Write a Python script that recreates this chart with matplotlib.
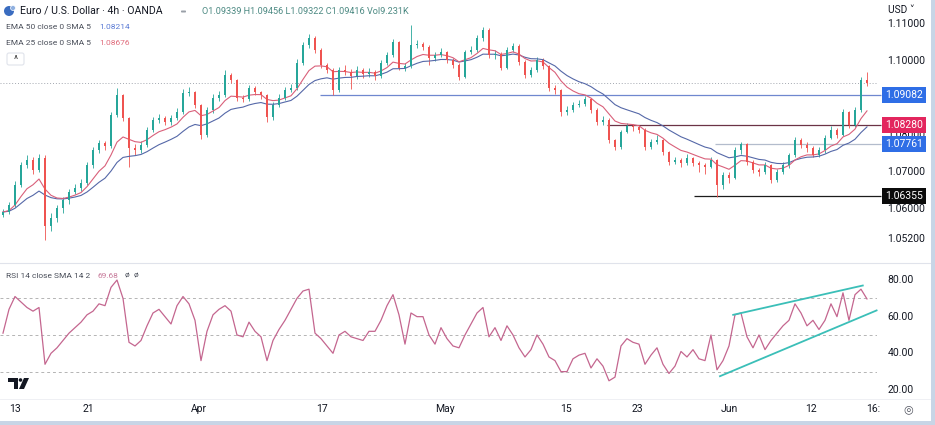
import matplotlib.pyplot as plt
from matplotlib.patches import FancyBboxPatch, Rectangle, Polygon, Circle
from matplotlib.lines import Line2D
import pandas as pd

plt.rcParams['font.family'] = ['Roboto', 'DejaVu Sans']

# EUR/USD, one candle ~ half a trading day
first_open = 1.0585
closes = [
    1.0592, 1.0611, 1.0665, 1.0719, 1.0732, 1.0705, 1.0738, 1.0554, 1.0576, 1.0603,
    1.0624, 1.0646, 1.0657, 1.0670, 1.0719, 1.0759, 1.0778, 1.0770, 1.0854, 1.0908,
    1.0846, 1.0765, 1.0759, 1.0773, 1.0814, 1.0841, 1.0846, 1.0835, 1.0846, 1.0862,
    1.0914, 1.0916, 1.0881, 1.0800, 1.0868, 1.0900, 1.0908, 1.0962, 1.0949, 1.0900,
    1.0897, 1.0927, 1.0916, 1.0908, 1.0849, 1.0881, 1.0900, 1.0922, 1.0927, 1.0995,
    1.1043, 1.1062, 1.1030, 1.0989, 1.0976, 1.0922, 1.0976, 1.0970, 1.0959, 1.0976,
    1.0965, 1.0970, 1.0959, 1.0995, 1.1016, 1.1051, 1.0981, 1.0986, 1.1043, 1.1046,
    1.1038, 1.1008, 1.1016, 1.1024, 1.1003, 1.0989, 1.0957, 1.1024, 1.1030, 1.1062,
    1.1084, 1.1016, 1.1019, 1.0981, 1.1030, 1.1041, 1.0997, 1.0962, 1.0976, 1.1003,
    1.0986, 1.0927, 1.0922, 1.0862, 1.0868, 1.0881, 1.0884, 1.0897, 1.0868, 1.0835,
    1.0841, 1.0786, 1.0768, 1.0808, 1.0824, 1.0822, 1.0814, 1.0768, 1.0781, 1.0786,
    1.0754, 1.0727, 1.0732, 1.0724, 1.0738, 1.0724, 1.0719, 1.0714, 1.0732, 1.0665,
    1.0692, 1.0684, 1.0759, 1.0776, 1.0727, 1.0705, 1.0700, 1.0719, 1.0678, 1.0700,
    1.0719, 1.0746, 1.0786, 1.0773, 1.0765, 1.0746, 1.0759, 1.0792, 1.0814, 1.0800,
    1.0862, 1.0827, 1.0868, 1.0949, 1.09416,
]
highs = [
    1.0600, 1.0618, 1.0675, 1.0728, 1.0745, 1.0740, 1.0750, 1.0745, 1.0590, 1.0612,
    1.0632, 1.0655, 1.0668, 1.0682, 1.0728, 1.0768, 1.0786, 1.0785, 1.0862, 1.0927,
    1.0912, 1.0850, 1.0775, 1.0784, 1.0822, 1.0850, 1.0858, 1.0852, 1.0855, 1.0872,
    1.0925, 1.0930, 1.0920, 1.0885, 1.0876, 1.0910, 1.0918, 1.0975, 1.0968, 1.0952,
    1.0908, 1.0936, 1.0932, 1.0920, 1.0912, 1.0890, 1.0910, 1.0930, 1.0938, 1.1005,
    1.1052, 1.1073, 1.1068, 1.1035, 1.0995, 1.0980, 1.0985, 1.0990, 1.0978, 1.0986,
    1.0982, 1.0980, 1.0976, 1.1002, 1.1024, 1.1060, 1.1055, 1.0995, 1.1097, 1.1058,
    1.1052, 1.1042, 1.1025, 1.1035, 1.1028, 1.1008, 1.0995, 1.1030, 1.1040, 1.1070,
    1.1092, 1.1088, 1.1030, 1.1025, 1.1038, 1.1050, 1.1045, 1.1002, 1.0985, 1.1010,
    1.1008, 1.0990, 1.0935, 1.0925, 1.0878, 1.0890, 1.0895, 1.0905, 1.0900, 1.0872,
    1.0852, 1.0845, 1.0790, 1.0815, 1.0832, 1.0830, 1.0828, 1.0818, 1.0790, 1.0800,
    1.0790, 1.0758, 1.0742, 1.0738, 1.0748, 1.0742, 1.0730, 1.0725, 1.0742, 1.0736,
    1.0700, 1.0700, 1.0768, 1.0780, 1.0778, 1.0732, 1.0712, 1.0726, 1.0722, 1.0708,
    1.0728, 1.0752, 1.0795, 1.0792, 1.0780, 1.0770, 1.0768, 1.0800, 1.0825, 1.0820,
    1.0870, 1.0866, 1.0876, 1.0958, 1.0970,
]
lows = [
    1.0578, 1.0586, 1.0605, 1.0660, 1.0712, 1.0695, 1.0700, 1.0516, 1.0540, 1.0565,
    1.0590, 1.0615, 1.0640, 1.0650, 1.0665, 1.0712, 1.0752, 1.0760, 1.0765, 1.0850,
    1.0838, 1.0714, 1.0745, 1.0752, 1.0768, 1.0808, 1.0832, 1.0826, 1.0828, 1.0840,
    1.0858, 1.0905, 1.0872, 1.0790, 1.0795, 1.0860, 1.0892, 1.0902, 1.0940, 1.0892,
    1.0888, 1.0892, 1.0908, 1.0898, 1.0835, 1.0842, 1.0875, 1.0895, 1.0915, 1.0922,
    1.0990, 1.1035, 1.1022, 1.0980, 1.0968, 1.0908, 1.0915, 1.0962, 1.0925, 1.0952,
    1.0955, 1.0958, 1.0948, 1.0955, 1.0990, 1.1012, 1.0975, 1.0972, 1.0982, 1.1035,
    1.1030, 1.0990, 1.1000, 1.1010, 1.0995, 1.0980, 1.0950, 1.0955, 1.1018, 1.1025,
    1.1055, 1.1008, 1.1005, 1.0975, 1.0978, 1.1025, 1.0990, 1.0955, 1.0958, 1.0970,
    1.0978, 1.0918, 1.0912, 1.0852, 1.0855, 1.0862, 1.0875, 1.0878, 1.0860, 1.0828,
    1.0828, 1.0778, 1.0760, 1.0762, 1.0805, 1.0812, 1.0805, 1.0760, 1.0762, 1.0775,
    1.0745, 1.0718, 1.0722, 1.0715, 1.0720, 1.0716, 1.0700, 1.0695, 1.0710, 1.0632,
    1.0655, 1.0670, 1.0680, 1.0750, 1.0720, 1.0698, 1.0690, 1.0695, 1.0670, 1.0672,
    1.0695, 1.0712, 1.0740, 1.0765, 1.0755, 1.0740, 1.0742, 1.0752, 1.0788, 1.0792,
    1.0798, 1.0820, 1.0822, 1.0862, 1.0932,
]
rsi = [
    51, 64, 71, 68, 65, 63, 65, 34, 40, 43,
    47, 51, 54, 57, 61, 63, 67, 66, 76, 80,
    70, 46, 44, 47, 55, 62, 64, 60, 56, 66,
    71, 67, 58, 36, 52, 61, 64, 66, 63, 50,
    49, 57, 52, 49, 36, 47, 53, 58, 64, 70,
    74, 75, 51, 48, 44, 40, 50, 52, 49, 48,
    47, 52, 52, 58, 66, 72, 61, 45, 62, 60,
    60, 50, 45, 54, 48, 44, 43, 50, 56, 62,
    65, 49, 54, 47, 55, 50, 43, 38, 42, 50,
    45, 38, 36, 30, 30, 37, 39, 40, 32, 37,
    33, 25, 27, 44, 48, 46, 45, 34, 39, 43,
    34, 29, 33, 41, 38, 42, 37, 36, 50, 31,
    36, 44, 61, 62, 49, 43, 50, 42, 47, 51,
    55, 58, 67, 62, 55, 58, 53, 58, 67, 60,
    73, 58, 72, 75, 69.68,
]

# drawn levels (price, first candle) and RSI wedge lines
levels = [1.09082, 1.08280, 1.07761, 1.06355]
level_start = [52.8, 100.7, 118.7, 115.2]
level_line_col = ['#6f87cf', '#6b3346', '#b3bccc', '#1c1c1c']
level_box_col = ['#2f6ee6', '#e3265e', '#2f6ee6', '#0b0b0b']
wedge_upper = ([121.7, 143.3], [61, 77])
wedge_lower = ([119.5, 145.6], [27.5, 63.4])

price_ticks = [1.11, 1.10, 1.08, 1.07, 1.06, 1.052]
rsi_ticks = [80, 60, 40, 20]
rsi_bands = [70, 50, 30]
date_pos = [2, 14.2, 32.7, 53.2, 73.7, 93.8, 105.8, 121, 134.7, 145]
date_labels = ['13', '21', 'Apr', '17', 'May', '15', '23', 'Jun', '12', '16:']

ema_fast_span = 25 / 3   # EMA 25 on 4h candles
ema_slow_span = 50 / 3   # EMA 50 on 4h candles

UP, DOWN = '#26a69a', '#ef5350'
TXT = '#131722'
W, H = 935, 425


def box(x0, y0, x1, y1):
    return [x0 / W, 1 - y1 / H, (x1 - x0) / W, (y1 - y0) / H]


def ftext(x, y, s, **kw):
    kw.setdefault('va', 'center')
    kw.setdefault('fontsize', 6)
    kw.setdefault('color', TXT)
    fig.text(x / W, 1 - y / H, s, **kw)


def px(x, y):
    # pixel (from top-left) -> inches for dpi_scale_trans
    return (x / 100, (H - y) / 100)


fig = plt.figure(figsize=(9.35, 4.25), dpi=100)
fig.patch.set_facecolor('white')

ax = fig.add_axes(box(0, 0, 877, 262))
rax = fig.add_axes(box(0, 265, 877, 398))
xmax = 145.67

n = len(closes)
idx = list(range(n))
opens = [first_open] + closes[:-1]
cols = [UP if c >= o else DOWN for o, c in zip(opens, closes)]

ax.vlines(idx, lows, highs, colors=cols, lw=0.6, zorder=2)
ax.bar(idx, [c - o for o, c in zip(opens, closes)], bottom=opens, width=0.42,
       color=cols, linewidth=0, zorder=3)

s = pd.Series(closes)
ema_fast = s.ewm(span=ema_fast_span, adjust=False).mean()
ema_slow = s.ewm(span=ema_slow_span, adjust=False).mean()
ax.plot(idx, ema_slow, color='#5568a8', lw=0.8, zorder=2)
ax.plot(idx, ema_fast, color='#d9607a', lw=0.8, zorder=2)

ax.axhline(closes[-1], color='#a3a8b0', lw=0.7, ls=(0, (1, 2)), zorder=1)

for lv, st, lc in zip(levels, level_start, level_line_col):
    ax.hlines(lv, st, xmax + 0.7, colors=lc, lw=0.9, zorder=1, clip_on=False)

ax.set_xlim(-0.5, xmax)
ax.set_ylim(1.0457, 1.11649)
ax.axis('off')

ytr = ax.get_yaxis_transform()
for p in price_ticks:
    ax.text(1.012, p, f'{p:.5f}', transform=ytr, ha='left', va='center',
            fontsize=7.5, color=TXT, zorder=3, clip_on=False)
for lv, bc in zip(levels, level_box_col):
    ax.text(1.009, lv, f'{lv:.5f}', transform=ytr, ha='left', va='center',
            fontsize=7.5, color='white', zorder=6, clip_on=False,
            bbox=dict(boxstyle='square,pad=0.3', fc=bc, ec='none'))

# RSI pane
rax.plot(idx, rsi, color='#c4668f', lw=0.9, zorder=3)
for b in rsi_bands:
    rax.axhline(b, color='#b4b4b4', lw=0.7, ls=(0, (3, 3)), zorder=1)
for xs, ys in (wedge_upper, wedge_lower):
    rax.add_line(Line2D(xs, ys, color='#3bbfb8', lw=1.3, zorder=4, clip_on=False))
rax.set_xlim(-0.5, xmax)
rax.set_ylim(15.6, 88.2)
rax.axis('off')
rtr = rax.get_yaxis_transform()
for v in rsi_ticks:
    rax.text(1.012, v, f'{v:.2f}', transform=rtr, ha='left', va='center',
             fontsize=7.5, color=TXT, clip_on=False)

# dates
date_y = 1 - (409 - 265) / (398 - 265)
for xp, lab in zip(date_pos, date_labels):
    rax.text(xp, date_y, lab, transform=rax.get_xaxis_transform(), ha='center',
             va='center', fontsize=7.5, color=TXT, clip_on=False)

# pane separators and screenshot frame
fig.add_artist(Line2D([0, 930 / W], [1 - 263 / H] * 2, color='#e0e3eb', lw=0.8))
fig.add_artist(Line2D([0, 930 / W], [1 - 398.5 / H] * 2, color='#eceef2', lw=0.6))
fig.add_artist(Rectangle((931 / W, 0), 4 / W, 1, transform=fig.transFigure,
                         fc='#c8d5e6', ec='none'))
fig.add_artist(Rectangle((0, 0), 1, 4 / H, transform=fig.transFigure,
                         fc='#c8d5e6', ec='none'))

# header
fig.add_artist(Circle(px(9, 11), 0.05, transform=fig.dpi_scale_trans,
                      fc='#3a6cc0', ec='none'))
fig.add_artist(Circle(px(13, 8), 0.025, transform=fig.dpi_scale_trans,
                      fc='#8fb0e0', ec='white', lw=0.5))
ftext(20, 11, 'Euro / U.S. Dollar \u00b7 4h \u00b7 OANDA', fontsize=7.6)
fig.add_artist(FancyBboxPatch(px(181, 12.5), 0.05, 0.02,
                              boxstyle='round,pad=0,rounding_size=0.008',
                              transform=fig.dpi_scale_trans, fc='#9aa0a8', ec='none'))
ftext(202, 11, 'O1.09339 H1.09456 L1.09322 C1.09416 Vol9.231K',
      fontsize=6.6, color='#4d8a83')
ftext(6, 27, 'EMA 50 close 0 SMA 5', color='#4a4f5a')
ftext(99, 27, '1.08214', color='#5b7bd5')
ftext(6, 43, 'EMA 25 close 0 SMA 5', color='#4a4f5a')
ftext(99, 43, '1.08676', color='#e06c7c')
fig.add_artist(FancyBboxPatch(px(7, 65), 0.17, 0.12,
                              boxstyle='round,pad=0,rounding_size=0.02',
                              transform=fig.dpi_scale_trans, fc='white',
                              ec='#e0e3eb', lw=0.8))
ftext(15.5, 60, '^', fontsize=7, ha='center', color='#333333')
ftext(888, 10, 'USD \u02c5', fontsize=7.3)

ftext(6, 276, 'RSI 14 close SMA 14 2', color='#4a4f5a')
ftext(98, 276, '69.68', color='#c77a9a')
ftext(125, 276, '\u00f8  \u00f8', color='#4a4f5a')

# TradingView logo
logo = '#131722'
fig.add_artist(Polygon([px(8, 378), px(18, 378), px(18, 389), px(14, 389),
                        px(14, 382), px(8, 382)], closed=True,
                       transform=fig.dpi_scale_trans, fc=logo, ec='none'))
fig.add_artist(Circle(px(20.5, 380), 0.018, transform=fig.dpi_scale_trans,
                      fc=logo, ec='none'))
fig.add_artist(Polygon([px(24, 378), px(29, 378), px(24, 389), px(19, 389)],
                       closed=True, transform=fig.dpi_scale_trans, fc=logo, ec='none'))
ftext(908, 409, '\u25ce', fontsize=8, ha='center', color='#50535e')

fig.savefig('out.png', dpi=100)
